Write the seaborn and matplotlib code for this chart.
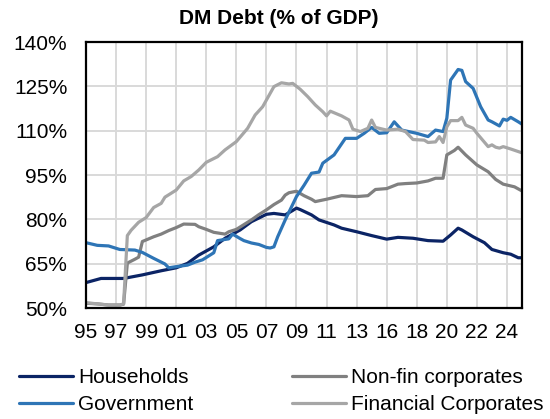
import matplotlib
matplotlib.use("Agg")
import matplotlib.pyplot as plt
import seaborn as sns
import pandas as pd

sns.set_style("white")
plt.rcParams['font.family'] = ['Liberation Sans', 'DejaVu Sans']
plt.rcParams['text.color'] = 'black'

# x = quarter index since 1995Q1 (category axis, labels every 8 quarters)
tick_labels = ["95", "97", "99", "01", "03", "05", "07", "09", "11", "13",
               "16", "18", "20", "22", "24"]

hh_q = [0, 4, 10, 15, 20, 24, 27, 30, 34, 37, 41, 44, 48, 50, 53, 55, 56, 57,
        60, 62, 66, 68, 72, 76, 80, 83, 87, 91, 95, 97, 99, 100, 103, 106,
        108, 111, 113, 115, 116]
hh_v = [58.6, 60.0, 60.0, 61.2, 62.6, 63.6, 65.1, 67.9, 70.7, 73.6, 76.4,
        79.2, 81.7, 82.0, 81.5, 83.0, 83.8, 83.3, 81.5, 79.8, 78.1, 77.0,
        75.8, 74.5, 73.3, 73.9, 73.6, 72.8, 72.6, 74.7, 77.0, 76.4, 74.1,
        72.1, 69.8, 68.7, 68.2, 67.0, 67.0]

nf_q = [0, 3, 6, 9, 10, 11, 13, 14, 15, 18, 20, 22, 24, 26, 29, 30, 32, 34,
        37, 38, 40, 42, 44, 46, 48, 50, 52, 53, 54, 56, 58, 60, 61, 64, 68,
        72, 75, 77, 80, 83, 85, 88, 91, 93, 95, 96, 98, 99, 101, 104, 107,
        109, 111, 114, 116]
nf_v = [51.6, 51.4, 51.0, 51.0, 51.3, 65.2, 66.5, 67.2, 72.5, 74.1, 75.0,
        76.2, 77.2, 78.4, 78.3, 77.5, 76.6, 75.6, 75.0, 75.8, 76.6, 78.2,
        79.8, 81.6, 83.2, 85.0, 86.5, 88.2, 89.0, 89.5, 88.0, 86.8, 86.0,
        86.8, 88.0, 87.7, 88.0, 90.1, 90.4, 91.9, 92.1, 92.3, 93.0, 93.9,
        93.9, 101.8, 103.3, 104.4, 101.8, 98.4, 96.1, 93.5, 91.9, 91.0, 89.6]

gov_q = [0, 3, 6, 9, 13, 15, 18, 21, 22, 24, 27, 29, 31, 34, 35, 36, 38, 39,
         41, 42, 44, 46, 48, 49, 50, 51, 53, 56, 58, 60, 62, 63, 66, 69, 72,
         74, 76, 78, 80, 82, 84, 88, 91, 93, 95, 96, 97, 99, 100, 101, 103,
         105, 107, 108, 110, 111, 112, 113, 115, 116]
gov_v = [72.1, 71.2, 71.0, 69.8, 69.6, 68.8, 66.8, 64.9, 63.6, 64.0, 64.5,
         65.5, 66.3, 68.7, 72.8, 73.0, 73.4, 75.0, 73.5, 72.8, 72.0, 71.5,
         70.5, 70.3, 70.7, 74.1, 79.8, 87.7, 91.5, 95.6, 96.0, 99.0, 101.8,
         107.4, 107.4, 109.1, 111.1, 109.1, 109.3, 113.0, 110.2, 109.1, 108.0,
         110.2, 109.7, 114.2, 127.1, 130.7, 130.4, 126.6, 124.3, 118.1, 113.6,
         113.0, 111.6, 113.9, 113.5, 114.5, 113.0, 112.2]

fc_q = [0, 3, 6, 9, 10, 11, 12, 14, 16, 18, 20, 21, 24, 26, 28, 30, 32, 35,
        37, 40, 43, 45, 47, 50, 52, 54, 55, 57, 59, 61, 63, 64, 65, 68, 70,
        71, 73, 75, 76, 77, 80, 83, 85, 87, 90, 91, 93, 94, 95, 96, 97, 99,
        100, 101, 103, 104, 107, 108, 109, 110, 111, 113, 116]
fc_v = [51.8, 51.4, 51.0, 51.0, 51.4, 74.5, 76.3, 79.0, 80.6, 84.0, 85.4,
        87.5, 89.9, 93.0, 94.5, 96.7, 99.3, 101.2, 103.5, 106.3, 110.8, 115.3,
        118.1, 124.9, 126.2, 125.8, 126.0, 124.0, 121.5, 118.7, 116.4, 115.0,
        116.6, 115.0, 113.6, 110.5, 109.7, 110.8, 113.6, 111.1, 110.2, 110.5,
        109.7, 107.0, 106.8, 106.0, 106.2, 108.0, 106.0, 111.3, 113.4, 113.4,
        114.5, 111.9, 110.8, 109.1, 104.6, 105.2, 104.4, 104.1, 104.6, 103.8,
        102.5]

series_names = ["Households", "Non-fin corporates", "Government",
                "Financial Corporates"]
colors = {"Households": "#0B2465", "Non-fin corporates": "#808080",
          "Government": "#2E75B6", "Financial Corporates": "#A6A6A6"}

frames = []
for name, q, v in zip(series_names, [hh_q, nf_q, gov_q, fc_q],
                      [hh_v, nf_v, gov_v, fc_v]):
    frames.append(pd.DataFrame({"quarter": q, "value": v, "series": name}))
df = pd.concat(frames, ignore_index=True)

fig = plt.figure(figsize=(5.5, 4.19), dpi=100)
ax = fig.add_axes([86/550, 1 - 308/419, (522 - 86)/550, (308 - 42)/419])

sns.lineplot(data=df, x="quarter", y="value", hue="series",
             hue_order=series_names, palette=colors, estimator=None,
             sort=False, linewidth=2.3, legend=False, ax=ax)

ax.set_xlim(0, 116)
ax.set_ylim(50, 140)
ax.set_xticks(range(0, 113, 8))
ax.set_xticklabels(tick_labels)
yt = [50, 65, 80, 95, 110, 125, 140]
ax.set_yticks(yt)
ax.set_yticklabels([f"{v}%" for v in yt])
ax.set_xlabel("")
ax.set_ylabel("")
ax.grid(True, color="#D9D9D9", linewidth=1.4)
ax.set_axisbelow(True)
for s in ax.spines.values():
    s.set_color("black")
    s.set_linewidth(1.6)
ax.tick_params(axis="y", length=0, pad=13.5, labelsize=15, colors="black")
ax.tick_params(axis="x", length=0, pad=11, labelsize=15, colors="black")

fig.text(279/550, 1 - 24/419, "DM Debt (% of GDP)", ha="center",
         va="baseline", fontsize=15, fontweight="bold", color="black")

lines = {n: l for n, l in zip(series_names, ax.get_lines())}
order = ["Households", "Government", "Non-fin corporates", "Financial Corporates"]
leg = fig.legend([lines[n] for n in order], order, ncol=2, loc="upper left",
                 bbox_to_anchor=(19/550, 1 - 368/419), frameon=False,
                 borderpad=0, borderaxespad=0, handlelength=2.6,
                 handletextpad=0.25, columnspacing=4.7, labelspacing=0.4,
                 fontsize=15)
for t in leg.get_texts():
    t.set_color("black")

fig.savefig("out.png", dpi=100)
